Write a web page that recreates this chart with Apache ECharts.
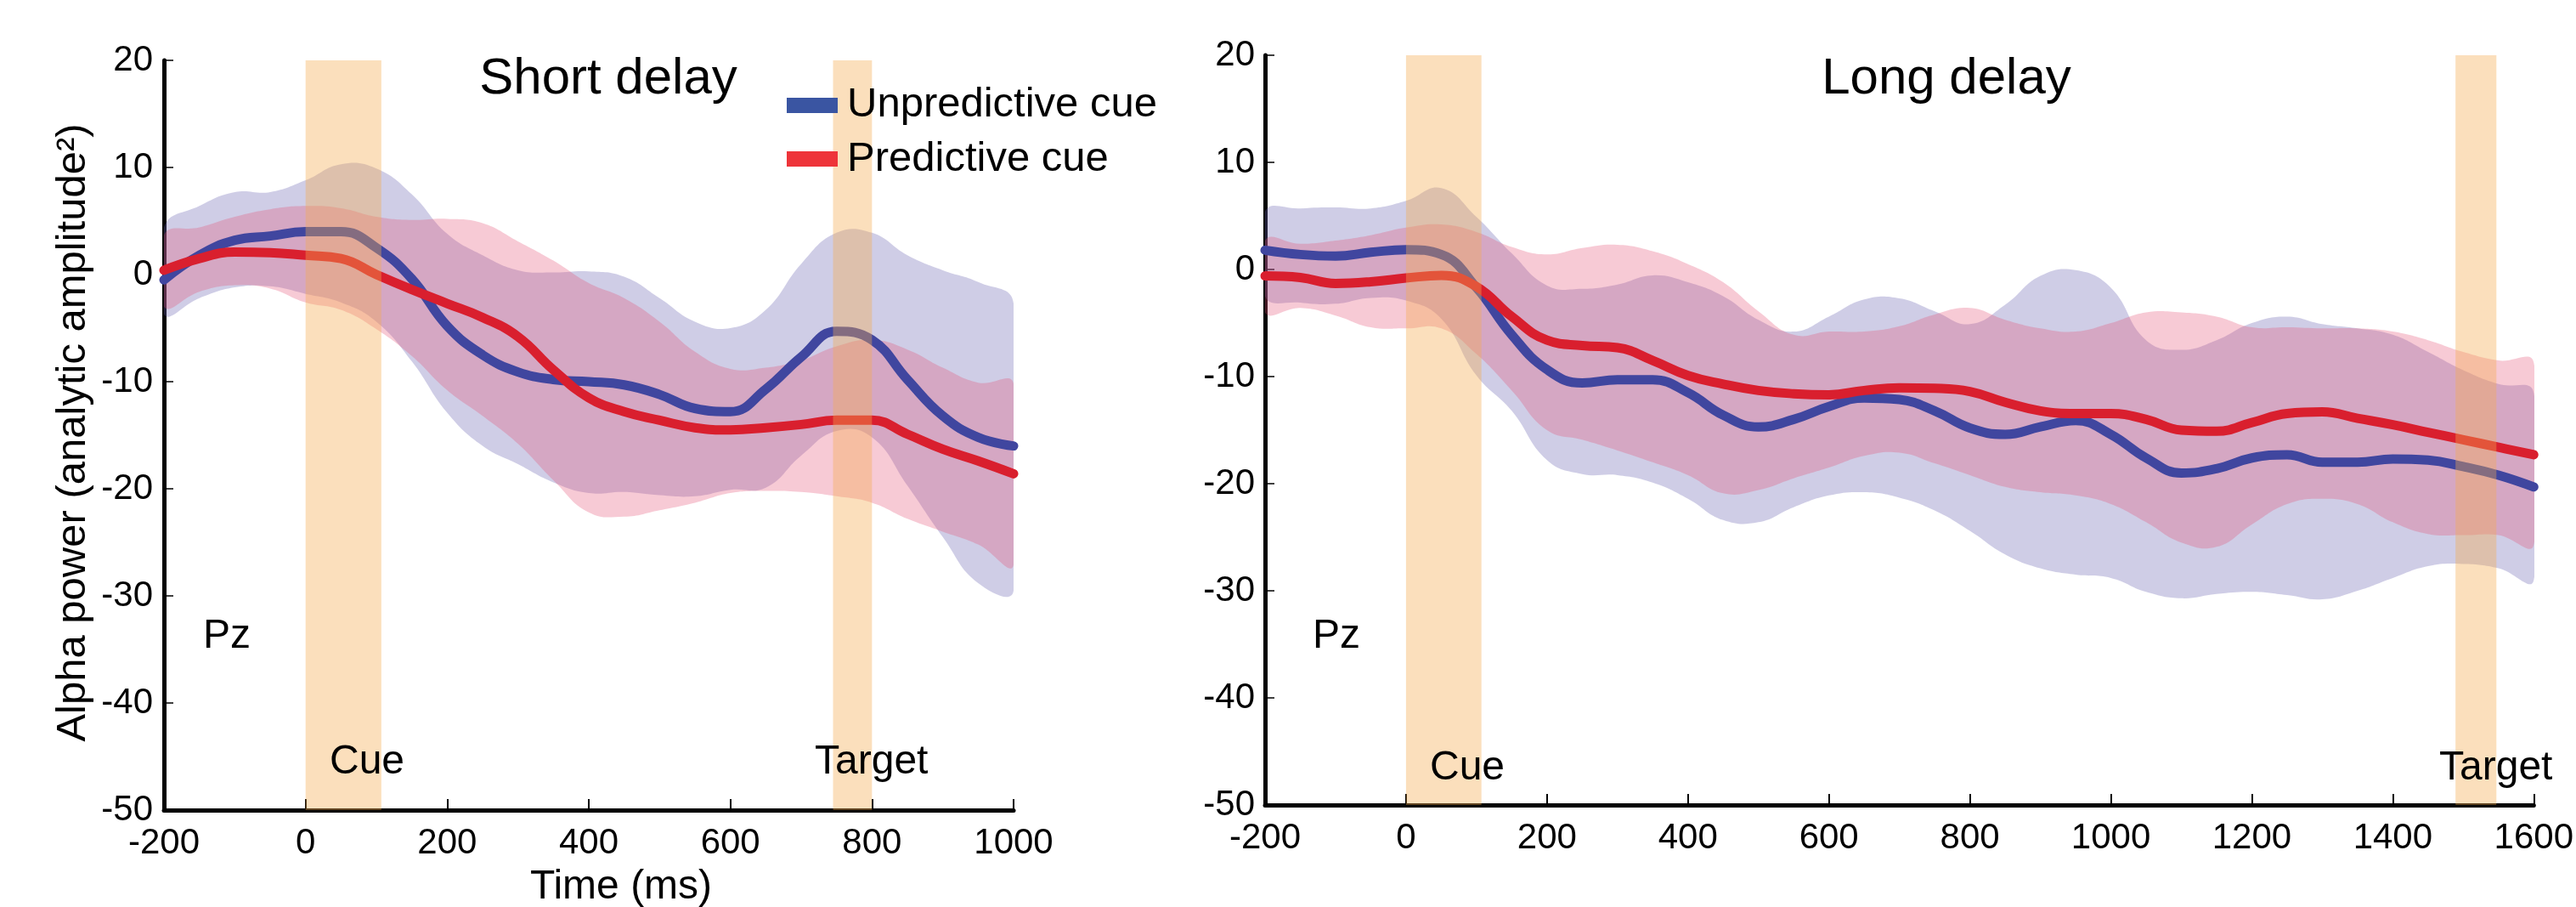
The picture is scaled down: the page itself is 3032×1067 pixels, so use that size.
<!DOCTYPE html>
<html>
<head>
<meta charset="utf-8">
<script src="https://cdn.jsdelivr.net/npm/echarts@6/dist/echarts.min.js"></script>
<style>
html,body{margin:0;padding:0;background:#fff;}
#chart{width:3032px;height:1067px;}
</style>
</head>
<body>
<div id="chart"></div>
<script>
// ---------- DATA ----------
const timeShort = [-200,-150,-100,-50,0,50,100,150,200,250,300,350,400,450,500,550,600,650,700,750,800,850,900,950,1000];
const shortUnpredMean  = [-0.5,1.8,3.2,3.6,4.0,4.0,2.5,-0.4,-4.8,-7.5,-9.1,-9.8,-10.0,-10.3,-11.2,-12.5,-12.8,-10.7,-7.7,-5.3,-6.1,-9.8,-13.2,-15.2,-16.0];
const shortUnpredUpper = [4.4,6.4,7.7,7.7,8.8,10.3,9.9,7.5,3.8,1.8,0.4,0.2,0.3,-0.2,-2.2,-4.4,-5.0,-3.3,1.0,3.9,3.9,1.8,0.4,-0.7,-2.7];
const shortUnpredLower = [-3.7,-2.2,-1.2,-1.1,-1.8,-2.6,-4.4,-8.1,-12.9,-16.0,-17.7,-19.4,-20.4,-20.3,-20.6,-20.7,-20.1,-19.9,-16.9,-14.6,-15.2,-19.7,-24.5,-28.8,-29.5];
const shortPredMean    = [0.4,1.5,2.1,2.05,1.8,1.5,0.0,-1.4,-2.7,-4.0,-5.8,-8.9,-11.5,-12.8,-13.6,-14.3,-14.5,-14.3,-14.0,-13.6,-13.6,-14.9,-16.3,-17.4,-18.6];
const shortPredUpper   = [3.7,4.4,5.4,6.1,6.4,6.2,5.4,5.1,5.2,4.8,3.1,1.3,-0.8,-2.2,-4.4,-7.2,-8.8,-8.7,-8.0,-6.7,-6.1,-7.0,-8.7,-10.1,-10.2];
const shortPredLower   = [-3.0,-1.6,-1.0,-1.3,-2.6,-3.3,-5.1,-7.6,-10.8,-13.2,-15.8,-19.2,-22.2,-22.6,-22.0,-21.3,-20.4,-20.2,-20.3,-20.7,-21.3,-22.8,-24.0,-25.2,-27.1];

const timeLong = [-200,-150,-100,-50,0,50,100,150,200,250,300,350,400,450,500,550,600,650,700,750,800,850,900,950,1000,1050,1100,1150,1200,1250,1300,1350,1400,1450,1500,1550,1600];
const longUnpredMean  = [1.8,1.4,1.25,1.6,1.85,1.4,-1.7,-6.1,-9.35,-10.6,-10.3,-10.3,-11.5,-13.6,-14.7,-14.0,-12.8,-12.0,-12.15,-13.2,-14.8,-15.4,-14.7,-14.1,-15.4,-17.6,-19.0,-18.6,-17.6,-17.3,-18.0,-18.0,-17.7,-17.8,-18.4,-19.2,-20.3];
const longUnpredUpper = [5.4,5.7,5.8,5.7,6.4,7.6,4.9,1.5,-1.5,-1.8,-1.4,-0.55,-1.2,-2.5,-4.7,-5.8,-4.4,-2.8,-2.7,-3.9,-5.1,-3.3,-0.6,-0.06,-1.7,-6.6,-7.5,-6.6,-5.0,-4.4,-5.1,-5.5,-6.1,-7.7,-9.4,-10.7,-11.5];
const longUnpredLower = [-2.5,-3.1,-3.2,-2.65,-2.9,-4.6,-9.9,-13.2,-17.8,-19.1,-19.2,-19.9,-21.4,-23.4,-23.6,-22.2,-21.1,-20.8,-21.3,-22.5,-24.4,-26.6,-27.9,-28.5,-28.8,-30.1,-30.7,-30.3,-30.1,-30.4,-30.8,-30.0,-28.8,-27.7,-27.5,-27.9,-29.0];
const longPredMean    = [-0.6,-0.75,-1.3,-1.15,-0.8,-0.55,-1.6,-4.4,-6.6,-7.1,-7.3,-8.5,-9.9,-10.7,-11.3,-11.6,-11.7,-11.3,-11.05,-11.1,-11.4,-12.4,-13.2,-13.45,-13.45,-14.0,-15.0,-15.1,-14.3,-13.45,-13.3,-13.9,-14.5,-15.2,-15.9,-16.6,-17.3];
const longPredUpper   = [2.7,2.4,2.7,3.2,3.9,4.2,3.5,2.1,1.4,2.0,2.3,1.7,0.5,-1.2,-3.9,-6.1,-5.8,-5.8,-5.3,-4.2,-3.6,-4.7,-5.5,-5.8,-5.0,-4.0,-4.0,-4.4,-5.4,-5.4,-5.5,-5.5,-5.8,-6.6,-7.7,-8.5,-8.7];
const longPredLower   = [-4.0,-3.6,-4.3,-5.4,-5.5,-5.5,-7.9,-11.3,-15.0,-15.9,-16.9,-18.0,-19.2,-20.9,-20.6,-19.5,-18.5,-17.4,-17.1,-18.1,-19.2,-20.3,-20.8,-21.1,-21.9,-23.6,-25.5,-25.9,-23.8,-21.9,-21.4,-21.9,-23.6,-24.7,-24.8,-24.8,-25.7];

const shortEvents = [[0,107],[745,800]];
const longEvents  = [[0,107],[1489,1547]];

const xTicksShort = {min:-200, max:1000, interval:200};
const xTicksLong  = {min:-200, max:1600, interval:200};
const yTicks = {min:-50, max:20, interval:10};

const legendNames = ['Unpredictive cue','Predictive cue'];
const panelTitles = ['Short delay','Long delay'];
const yAxisTitle = 'Alpha power (analytic amplitude\u00B2)';
const xAxisTitle = 'Time (ms)';

// ---------- STYLE ----------
const FONT = '"Liberation Sans", Arial, Helvetica, sans-serif';
const BLUE_LINE = '#40469f';
const RED_LINE = '#d91f2e';
const BLUE_BAND = 'rgba(105,99,177,0.32)';
const RED_BAND = 'rgba(228,78,117,0.30)';
const EVENT_BAND = 'rgba(244,170,80,0.38)';
const SMOOTH = 0.45;

function pairs(x, y){ return x.map((t,i)=>[t, y[i]]); }

// confidence band between lower and upper arrays, positioned with api.coord
function bandSeries(idx, x, lo, hi, color, z){
  return {
    type:'custom', xAxisIndex:idx, yAxisIndex:idx, coordinateSystem:'cartesian2d',
    data: pairs(x, lo), silent:true, z:z, clip:true,
    renderItem: function(params, api){
      if (params.dataIndex !== 0) return null;
      const top = x.map((t,i)=>api.coord([t, hi[i]]));
      const bot = x.map((t,i)=>api.coord([t, lo[i]])).reverse();
      return {type:'polygon', shape:{points: top.concat(bot), smooth:SMOOTH}, style:{fill:color, stroke:null}};
    }
  };
}
function meanSeries(idx, x, y, color, z){
  return {type:'line', xAxisIndex:idx, yAxisIndex:idx, data:pairs(x, y), symbol:'none', smooth:SMOOTH,
    lineStyle:{color:color, width:11, cap:'round', join:'round'}, silent:true, z:z};
}
function eventSeries(idx, events){
  return {type:'line', xAxisIndex:idx, yAxisIndex:idx, data:[], silent:true, z:20,
    markArea:{silent:true, z:20, itemStyle:{color:EVENT_BAND, borderWidth:0},
      data: events.map(e=>[{xAxis:e[0]},{xAxis:e[1]}])}};
}
function xAxisCfg(idx, t){
  return {type:'value', gridIndex:idx, min:t.min, max:t.max, interval:t.interval,
    axisLine:{show:true, onZero:false, lineStyle:{color:'#000', width:5}},
    axisTick:{show:true, inside:true, length:13, lineStyle:{color:'#000', width:2}},
    axisLabel:{color:'#000', fontSize:42, fontFamily:FONT, margin:18, formatter:v=>String(v)},
    splitLine:{show:false}};
}
function yAxisCfg(idx, margin){
  return {type:'value', gridIndex:idx, min:yTicks.min, max:yTicks.max, interval:yTicks.interval,
    axisLine:{show:true, onZero:false, lineStyle:{color:'#000', width:5}},
    axisTick:{show:true, inside:true, length:11, lineStyle:{color:'#000', width:1.5}},
    axisLabel:{color:'#000', fontSize:42, fontFamily:FONT, margin:margin, formatter:v=>String(v)},
    splitLine:{show:false}};
}
function txt(text, x, y, size, align, extra){
  return Object.assign({type:'text', x:x, y:y, silent:true, z:50,
    style:{text:text, font: size+'px '+FONT, fill:'#000', align:align||'left', verticalAlign:'middle'}}, extra||{});
}

const chart = echarts.init(document.getElementById('chart'), null, {renderer:'canvas'});
chart.setOption({
  animation:false,
  backgroundColor:'#fff',
  grid:[
    {left:193, top:71, width:1000, height:882},
    {left:1489, top:65, width:1501, height:882}
  ],
  xAxis:[xAxisCfg(0, xTicksShort), xAxisCfg(1, xTicksLong)],
  yAxis:[yAxisCfg(0, 13), yAxisCfg(1, 12)],
  series:[
    bandSeries(0, timeShort, shortUnpredLower, shortUnpredUpper, BLUE_BAND, 1),
    bandSeries(0, timeShort, shortPredLower, shortPredUpper, RED_BAND, 2),
    meanSeries(0, timeShort, shortUnpredMean, BLUE_LINE, 3),
    meanSeries(0, timeShort, shortPredMean, RED_LINE, 4),
    eventSeries(0, shortEvents),
    bandSeries(1, timeLong, longUnpredLower, longUnpredUpper, BLUE_BAND, 1),
    bandSeries(1, timeLong, longPredLower, longPredUpper, RED_BAND, 2),
    meanSeries(1, timeLong, longUnpredMean, BLUE_LINE, 3),
    meanSeries(1, timeLong, longPredMean, RED_LINE, 4),
    eventSeries(1, longEvents)
  ],
  graphic:[
    txt(panelTitles[0], 716, 93, 60, 'center'),
    txt(panelTitles[1], 2291, 93, 60, 'center'),
    {type:'rect', shape:{x:926, y:115, width:60, height:18}, style:{fill:'#3a55a2'}, z:50, silent:true},
    {type:'rect', shape:{x:926, y:178, width:60, height:18}, style:{fill:'#ee343a'}, z:50, silent:true},
    txt(legendNames[0], 997, 123, 49, 'left'),
    txt(legendNames[1], 997, 187, 49, 'left'),
    txt('Pz', 239, 749, 48, 'left'),
    txt('Pz', 1545, 749, 48, 'left'),
    txt('Cue', 388, 897, 48, 'left'),
    txt('Target', 959, 897, 48, 'left'),
    txt('Cue', 1683, 904, 48, 'left'),
    txt('Target', 2871, 904, 48, 'left'),
    txt(xAxisTitle, 731, 1044, 48, 'center'),
    txt(yAxisTitle, 86, 509, 49, 'center', {rotation: Math.PI/2})
  ]
});
</script>
</body>
</html>
